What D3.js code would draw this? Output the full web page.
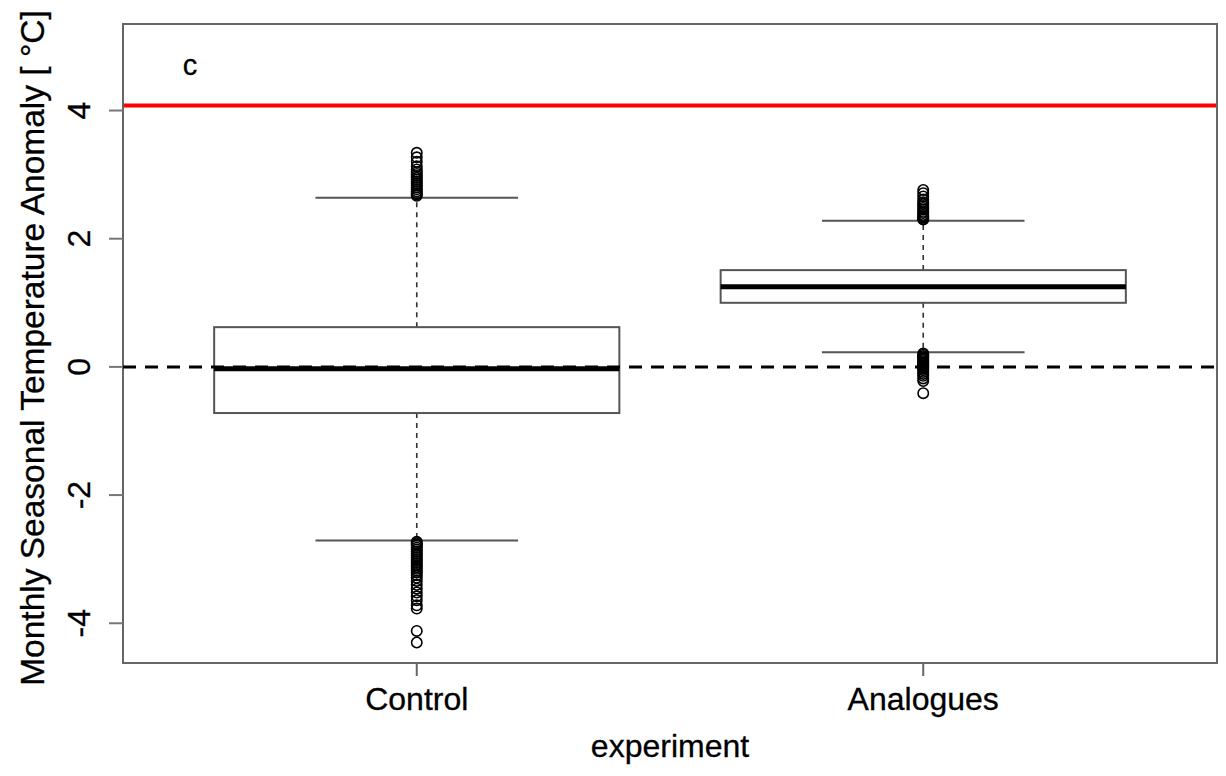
<!DOCTYPE html>
<html>
<head>
<meta charset="utf-8">
<script src="https://cdn.jsdelivr.net/npm/d3@7/dist/d3.min.js"></script>
<style>
  body { margin: 0; background: #fff; }
  text { font-family: "Liberation Sans", Arial, sans-serif; fill: #000; stroke: #000; stroke-width: 0.3px; }
</style>
</head>
<body>
<div id="viz"></div>
<script>
// experiment groups
var groups = ["Control", "Analogues"];
// box stats: lower whisker, Q1, median, Q3, upper whisker
var whiskLo = [-2.71, 0.23];
var q1 = [-0.72, 1.00];
var median = [-0.03, 1.25];
var q3 = [0.62, 1.51];
var whiskHi = [2.64, 2.28];
// outliers per group
var outControl = [3.34, 3.27, 3.20, 3.13, 3.08, 3.04, 3.01, 2.98, 2.95, 2.92, 2.89, 2.86, 2.83, 2.80, 2.77, 2.74, 2.71, 2.69, 2.67,
  -2.73, -2.75, -2.77, -2.79, -2.82, -2.85, -2.88, -2.91, -2.94, -2.97, -3.00, -3.03, -3.06, -3.09, -3.12, -3.15,
  -3.18, -3.21, -3.25, -3.29, -3.34, -3.40, -3.46, -3.52, -3.58, -3.64, -3.72, -3.77, -4.12, -4.30];
var outAnalogues = [2.76, 2.71, 2.66, 2.61, 2.57, 2.54, 2.51, 2.48, 2.45, 2.42, 2.40, 2.37, 2.35, 2.33, 2.31, 2.30,
  0.21, 0.19, 0.17, 0.15, 0.13, 0.11, 0.09, 0.07, 0.05, 0.03, 0.01, -0.01, -0.03, -0.05, -0.08, -0.11, -0.14,
  -0.18, -0.22, -0.41];
var outliers = [outControl, outAnalogues];
var yTicks = [-4, -2, 0, 2, 4];
var refLine = 4.08;

var W = 1226, H = 776;
var pLeft = 123, pRight = 1217, pTop = 24, pBottom = 663;

var svg = d3.select('#viz').append('svg')
  .attr('width', W)
  .attr('height', H);

var x = d3.scaleLinear().domain([0.42, 2.58]).range([pLeft, pRight]);
var y = d3.scaleLinear().domain([-4.62, 5.35]).range([pBottom, pTop]);
var boxW = x(1.4) - x(1);
var capW = x(1.2) - x(1);

// plot frame
svg.append('rect')
  .attr('x', pLeft).attr('y', pTop)
  .attr('width', pRight - pLeft).attr('height', pBottom - pTop)
  .style('fill', 'none').style('stroke', '#666').style('stroke-width', 2);

// y axis
var yAxis = svg.append('g');
yAxis.selectAll('line').data(yTicks).enter().append('line')
  .attr('x1', pLeft - 14).attr('x2', pLeft)
  .attr('y1', function(d) { return y(d); })
  .attr('y2', function(d) { return y(d); })
  .style('stroke', '#777').style('stroke-width', 2);
yAxis.selectAll('text').data(yTicks).enter().append('text')
  .attr('transform', function(d) { return 'translate(90,' + y(d) + ') rotate(-90)'; })
  .attr('text-anchor', 'middle')
  .style('font-size', '32px')
  .text(function(d) { return d; });

// x axis
var xAxis = svg.append('g');
xAxis.selectAll('line').data(groups).enter().append('line')
  .attr('x1', function(d, i) { return x(i + 1); })
  .attr('x2', function(d, i) { return x(i + 1); })
  .attr('y1', pBottom).attr('y2', pBottom + 13)
  .style('stroke', '#666').style('stroke-width', 2);
xAxis.selectAll('text').data(groups).enter().append('text')
  .attr('x', function(d, i) { return x(i + 1); })
  .attr('y', 710)
  .attr('text-anchor', 'middle')
  .style('font-size', '32px')
  .text(function(d) { return d; });

// axis titles
svg.append('text')
  .attr('x', x(1.5)).attr('y', 757)
  .attr('text-anchor', 'middle')
  .style('font-size', '32px')
  .text('experiment');
svg.append('text')
  .attr('transform', 'translate(44,348) rotate(-90)')
  .attr('text-anchor', 'middle')
  .style('font-size', '33.5px')
  .text('Monthly Seasonal Temperature Anomaly [ \u00B0C]');

// panel letter
svg.append('text')
  .attr('x', 190).attr('y', 75)
  .attr('text-anchor', 'middle')
  .style('font-size', '29px')
  .text('c');

// boxes
var box = svg.selectAll('.box').data(groups).enter().append('g')
  .attr('class', 'box');

box.append('line')
  .attr('x1', function(d, i) { return x(i + 1); })
  .attr('x2', function(d, i) { return x(i + 1); })
  .attr('y1', function(d, i) { return y(q3[i]); })
  .attr('y2', function(d, i) { return y(whiskHi[i]); })
  .style('stroke', '#333').style('stroke-width', 1.6).style('stroke-dasharray', '5,5');
box.append('line')
  .attr('x1', function(d, i) { return x(i + 1); })
  .attr('x2', function(d, i) { return x(i + 1); })
  .attr('y1', function(d, i) { return y(q1[i]); })
  .attr('y2', function(d, i) { return y(whiskLo[i]); })
  .style('stroke', '#333').style('stroke-width', 1.6).style('stroke-dasharray', '5,5');

[whiskHi, whiskLo].forEach(function(arr) {
  box.append('line')
    .attr('x1', function(d, i) { return x(i + 1) - capW; })
    .attr('x2', function(d, i) { return x(i + 1) + capW; })
    .attr('y1', function(d, i) { return y(arr[i]); })
    .attr('y2', function(d, i) { return y(arr[i]); })
    .style('stroke', '#555').style('stroke-width', 2);
});

box.append('rect')
  .attr('x', function(d, i) { return x(i + 1) - boxW; })
  .attr('y', function(d, i) { return y(q3[i]); })
  .attr('width', 2 * boxW)
  .attr('height', function(d, i) { return y(q1[i]) - y(q3[i]); })
  .style('fill', '#fff').style('stroke', '#555').style('stroke-width', 2);

box.append('line')
  .attr('x1', function(d, i) { return x(i + 1) - boxW; })
  .attr('x2', function(d, i) { return x(i + 1) + boxW; })
  .attr('y1', function(d, i) { return y(median[i]); })
  .attr('y2', function(d, i) { return y(median[i]); })
  .style('stroke', '#000').style('stroke-width', 5);

box.each(function(d, i) {
  d3.select(this).selectAll('circle').data(outliers[i]).enter().append('circle')
    .attr('cx', x(i + 1))
    .attr('cy', function(v) { return y(v); })
    .attr('r', 5.2)
    .style('fill', 'none').style('stroke', '#000').style('stroke-width', 1.6);
});

// reference lines
svg.append('line')
  .attr('x1', pLeft).attr('x2', pRight)
  .attr('y1', y(0)).attr('y2', y(0))
  .style('stroke', '#000').style('stroke-width', 3).style('stroke-dasharray', '13,9');
svg.append('line')
  .attr('x1', pLeft + 1).attr('x2', pRight - 1)
  .attr('y1', y(refLine)).attr('y2', y(refLine))
  .style('stroke', '#f00').style('stroke-width', 4);
</script>
</body>
</html>
